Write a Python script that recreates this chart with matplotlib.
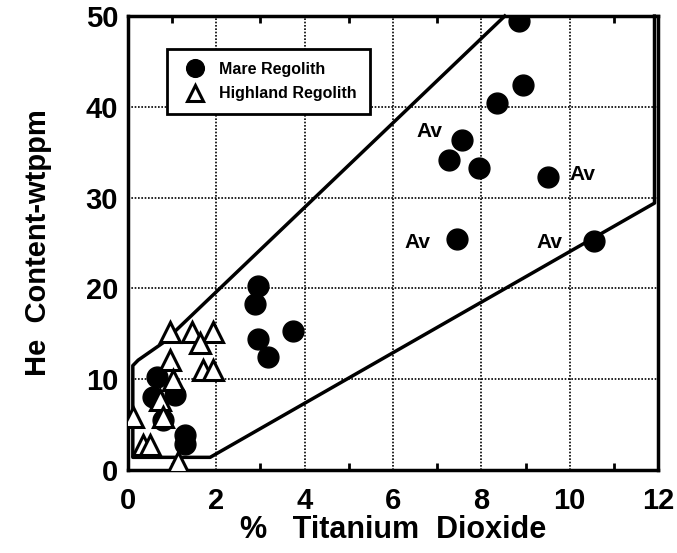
import matplotlib
matplotlib.use("Agg")
import matplotlib.pyplot as plt

# mare regolith samples (% TiO2, He wtppm)
mare_x = [8.85, 8.94, 8.35, 7.56, 7.26, 7.94, 9.52, 7.44, 10.54,
          2.94, 2.87, 2.94, 3.17, 3.73,
          0.66, 0.57, 1.06, 0.79, 1.29, 1.29]
mare_y = [49.4, 42.4, 40.4, 36.3, 34.2, 33.3, 32.3, 25.4, 25.2,
          20.3, 18.3, 14.4, 12.4, 15.3,
          10.3, 8.0, 8.3, 5.5, 3.9, 2.9]

# highland regolith samples
high_x = [0.95, 1.45, 1.92, 1.63, 0.95, 1.70, 1.92, 1.02, 0.72, 0.79,
          0.11, 0.34, 0.50, 1.13]
high_y = [15.2, 15.2, 15.2, 14.0, 12.1, 11.0, 11.0, 9.9, 7.7, 5.8,
          5.8, 2.8, 2.8, 0.9]

# envelope around the data
env_x = [8.53, 0.79, 0.23, 0.11, 0.11, 1.86, 11.92, 11.92]
env_y = [50.0, 14.0, 12.1, 11.5, 1.4, 1.4, 29.4, 50.0]

# "Av" labels
av_x = [6.83, 10.29, 6.56, 9.55]
av_y = [37.3, 32.6, 25.1, 25.1]

plt.rcParams['font.family'] = ['Liberation Sans', 'DejaVu Sans']
plt.rcParams['font.weight'] = 'bold'

fig = plt.figure(figsize=(6.77, 5.53), dpi=100)
ax = fig.add_axes([0.189, 0.150, 0.783, 0.821])

ax.plot(env_x, env_y, color='black', lw=2.5, zorder=2, clip_on=False)

ax.plot(mare_x, mare_y, 'o', color='black', ms=15, zorder=3,
        label='Mare Regolith')
ax.plot(high_x, high_y, '^', mfc='white', mec='black', mew=2.2, ms=14,
        zorder=4, label='Highland Regolith')

for x, y in zip(av_x, av_y):
    ax.text(x, y, 'Av', ha='center', va='center', fontsize=15,
            fontweight='bold')

ax.set_xlim(0, 12)
ax.set_ylim(0, 50)
ax.set_xticks([0, 2, 4, 6, 8, 10, 12])
ax.set_yticks([0, 10, 20, 30, 40, 50])
ax.set_xticks([1, 3, 5, 7, 9, 11], minor=True)
ax.tick_params(which='both', direction='in', top=True, right=True,
               labelsize=21, width=2)
ax.tick_params(which='major', length=0, pad=7)
ax.tick_params(axis='x', which='major', pad=12)
ax.tick_params(which='minor', length=5)
for lab in ax.get_xticklabels() + ax.get_yticklabels():
    lab.set_fontweight('bold')

ax.grid(True, which='major', color='black', ls=(0, (1, 1)), lw=1.2)
for s in ax.spines.values():
    s.set_linewidth(2.5)

ax.set_xlabel('%   Titanium  Dioxide', fontsize=22, fontweight='bold',
              labelpad=0)
ax.set_ylabel('He  Content-wtppm', fontsize=21, fontweight='bold',
              labelpad=24)

leg = ax.legend(loc='upper left', bbox_to_anchor=(0.058, 0.945),
                fancybox=False, edgecolor='black', framealpha=1,
                fontsize=11.5, markerscale=0.85, handletextpad=0.5,
                borderpad=0.8, labelspacing=0.6)
leg.get_frame().set_linewidth(2)
for t in leg.get_texts():
    t.set_fontweight('bold')

fig.savefig('out.png', dpi=100)
